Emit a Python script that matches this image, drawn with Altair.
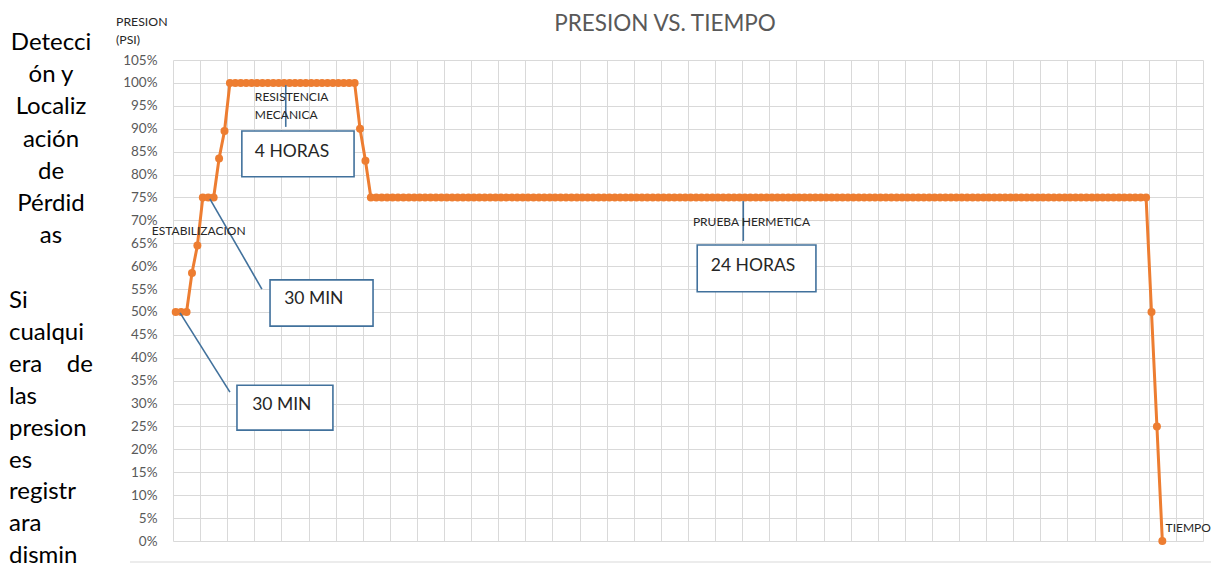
import altair as alt
import pandas as pd

# ---- series: pressure (% of test pressure) at each 10-minute reading ----
presion = [
    50, 50, 50, 58.5, 64.5, 75, 75, 75, 83.5, 89.5,
    100, 100, 100, 100, 100, 100, 100, 100, 100, 100, 100, 100,
    100, 100, 100, 100, 100, 100, 100, 100, 100, 100, 100, 100,
    90, 83,
    75, 75, 75, 75, 75, 75, 75, 75, 75, 75, 75, 75,
    75, 75, 75, 75, 75, 75, 75, 75, 75, 75, 75, 75,
    75, 75, 75, 75, 75, 75, 75, 75, 75, 75, 75, 75,
    75, 75, 75, 75, 75, 75, 75, 75, 75, 75, 75, 75,
    75, 75, 75, 75, 75, 75, 75, 75, 75, 75, 75, 75,
    75, 75, 75, 75, 75, 75, 75, 75, 75, 75, 75, 75,
    75, 75, 75, 75, 75, 75, 75, 75, 75, 75, 75, 75,
    75, 75, 75, 75, 75, 75, 75, 75, 75, 75, 75, 75,
    75, 75, 75, 75, 75, 75, 75, 75, 75, 75, 75, 75,
    75, 75, 75, 75, 75, 75, 75, 75, 75, 75, 75, 75,
    75, 75, 75, 75, 75, 75, 75, 75, 75, 75, 75, 75,
    75, 75, 75, 75, 75, 75, 75, 75, 75, 75, 75, 75,
    50, 25, 0,
]
tiempo = list(range(len(presion)))
n_categorias = 190

y_ticks = [0, 5, 10, 15, 20, 25, 30, 35, 40, 45, 50, 55, 60, 65, 70, 75, 80, 85, 90, 95, 100, 105]

# ---- annotation contents ----
box_text = ["4 HORAS", "30 MIN", "30 MIN", "24 HORAS"]
label_text = ["ESTABILIZACION", "RESISTENCIA", "MECANICA", "PRUEBA HERMETICA", "TIEMPO"]
titulo = "PRESION VS. TIEMPO"
eje_titulo = "PRESION\n(PSI)"
NB = "\u00a0"
lado_a = "Detecci\nón y\nLocaliz\nación\nde\nPérdid\nas"
lado_b = "Si\ncualqui\nera" + NB * 4 + "de\nlas\npresion\nes\nregistr\nara\ndismin"

# ---- annotation placement (in data units of the chart) ----
box_x = [12.2, 17.4, 11.3, 96.2]
box_x2 = [32.9, 36.4, 29.0, 118.1]
box_y = [89.5, 57.0, 34.0, 64.6]
box_y2 = [79.5, 46.9, 24.2, 54.4]
box_tx = [14.6, 20.0, 14.1, 98.7]
box_ty = [84.9, 52.8, 29.7, 60.0]

lead_x = [0.8, 6.3, 20.3, 104.7]
lead_y = [49.8, 74.7, 99.5, 74.2]
lead_x2 = [10.0, 15.9, 20.3, 104.7]
lead_y2 = [32.5, 55.0, 90.4, 65.5]

label_x = [-4.4, 14.6, 14.6, 95.4, 182.6]
label_y = [67.7, 96.9, 93.0, 69.6, 2.8]

FONT = "Lato"
ORANGE = "#ED7D31"
BLUE = "#41719C"
GRID = "#d9d9d9"

df = pd.DataFrame({"t": tiempo, "p": presion})
boxes = pd.DataFrame({"x": box_x, "x2": box_x2, "y": box_y, "y2": box_y2,
                      "tx": box_tx, "ty": box_ty, "text": box_text})
leads = pd.DataFrame({"x": lead_x, "y": lead_y, "x2": lead_x2, "y2": lead_y2})
labels = pd.DataFrame({"x": label_x, "y": label_y, "text": label_text})

x_grid = [-0.5 + 5 * k for k in range(n_categorias // 5 + 1)]
xscale = alt.Scale(domain=[-0.5, n_categorias - 0.5], nice=False, zero=False)
yscale = alt.Scale(domain=[0, 105], nice=False, zero=True)

x_axis = alt.Axis(values=x_grid, labels=False, ticks=False, domain=False,
                  grid=True, gridColor=GRID, gridWidth=1, title=None)
y_axis = alt.Axis(values=y_ticks, labelExpr="datum.value + '%'", ticks=False,
                  domain=False, grid=True, gridColor=GRID, gridWidth=1,
                  labelFont=FONT, labelFontSize=13.5, labelColor="#595959",
                  labelPadding=16, title=None)


def X(field):
    return alt.X(field, scale=xscale, axis=x_axis)


def Y(field):
    return alt.Y(field, scale=yscale, axis=y_axis)


line = alt.Chart(df).mark_line(
    color=ORANGE, strokeWidth=3,
    point=alt.OverlayMarkDef(color=ORANGE, filled=True, size=64, opacity=1),
).encode(x=X("t:Q"), y=Y("p:Q"))

lead_rules = alt.Chart(leads).mark_rule(color=BLUE, strokeWidth=1.6).encode(
    x=X("x:Q"), y=Y("y:Q"), x2="x2:Q", y2="y2:Q",
)

box_rects = alt.Chart(boxes).mark_rect(fill="white", stroke=BLUE, strokeWidth=1.6).encode(
    x=X("x:Q"), x2="x2:Q", y=Y("y:Q"), y2="y2:Q",
)

box_texts = alt.Chart(boxes).mark_text(
    align="left", baseline="middle", font=FONT, fontSize=17.5, color="#262626"
).encode(x=X("tx:Q"), y=Y("ty:Q"), text="text:N")

small_labels = alt.Chart(labels).mark_text(
    align="left", baseline="middle", font=FONT, fontSize=12, color="#262626"
).encode(x=X("x:Q"), y=Y("y:Q"), text="text:N")

title_mark = alt.Chart(pd.DataFrame({"text": [titulo]})).mark_text(
    align="center", baseline="alphabetic", font=FONT, fontSize=22.5, color="#595959"
).encode(x=alt.value(492), y=alt.value(-29), text="text:N")

axis_title = alt.Chart(pd.DataFrame({"text": [eje_titulo]})).mark_text(
    align="left", baseline="alphabetic", font=FONT, fontSize=12.3, color="#262626",
    lineBreak="\n", lineHeight=18,
).encode(x=alt.value(-57), y=alt.value(-34), text="text:N")

side_a = alt.Chart(pd.DataFrame({"text": [lado_a]})).mark_text(
    align="center", baseline="alphabetic", font=FONT, fontSize=24, color="black",
    lineBreak="\n", lineHeight=32.2,
).encode(x=alt.value(-122), y=alt.value(-10), text="text:N")

side_b = alt.Chart(pd.DataFrame({"text": [lado_b]})).mark_text(
    align="left", baseline="alphabetic", font=FONT, fontSize=24, color="black",
    lineBreak="\n", lineHeight=31.9,
).encode(x=alt.value(-164), y=alt.value(248), text="text:N")

bottom_rule = alt.Chart(pd.DataFrame({"v": [0]})).mark_rule(color=GRID, strokeWidth=1).encode(
    x=alt.value(-43), x2=alt.value(1038), y=alt.value(502)
)

chart = alt.layer(
    line, lead_rules, box_rects, box_texts, small_labels,
    title_mark, axis_title, side_a, side_b, bottom_rule,
).properties(
    width=1030, height=481,
    padding={"left": 165, "top": 52, "right": 8, "bottom": 26},
    autosize="none",
    background="white",
).configure_view(stroke=None)

chart.save("out.html", embed_options={"renderer": "svg", "actions": False})
